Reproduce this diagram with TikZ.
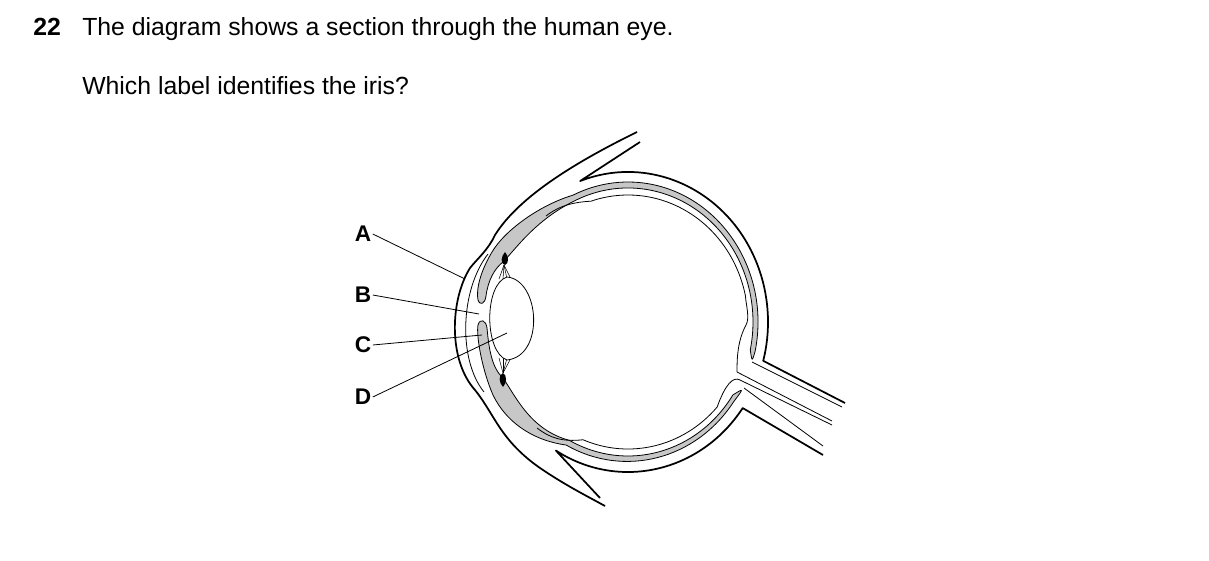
\documentclass[tikz,border=0pt]{standalone}
\usepackage{fontspec}
\setmainfont{Liberation Sans}
\begin{document}
\begin{tikzpicture}[x=0.75pt,y=-0.75pt,
  thick line/.style={line width=1.3pt,line join=round},
  thin line/.style={line width=0.6pt,line join=round},
  band/.style={fill=black!22,draw=black,line width=0.6pt},
  lbl/.style={font=\bfseries\fontsize{17}{20}\selectfont,inner sep=1pt},
  lead/.style={line width=0.6pt},
  txt/.style={font=\fontsize{18.6}{22}\selectfont,anchor=base west,inner sep=0}]
\useasboundingbox (0,0) rectangle (1209,560);
% text
\node[txt,font=\bfseries\fontsize{18.6}{22}\selectfont] (num) at (33,36) {22};
\node[txt] (t1) at (82,36) {The diagram shows a section through the human eye.};
\node[txt] (t2) at (82,94) {Which label identifies the iris?};
% upper choroid / ciliary / iris
\path[band] ([shift={(628,322)}]12:130 and 140) arc[start angle=12,end angle=-115,x radius=130,y radius=140]
  .. controls (540,205) and (505,230) .. (492,252)
  .. controls (480,272) and (476,290) .. (478,300)
  .. controls (480,306) and (485,304) .. (486,296)
  .. controls (488,280) and (495,268) .. (503,262)
  .. controls (515,250) and (535,220) .. ([shift={(628,322)}]-115:125 and 134)
  arc[start angle=-115,end angle=12,x radius=125,y radius=134] .. controls (752,362) .. cycle;
% lower choroid / ciliary / iris
\path[band] ([shift={(628,322)}]35:129 and 139) arc[start angle=35,end angle=118,x radius=130,y radius=140]
  .. controls (530,440) and (505,420) .. (493,395)
  .. controls (482,370) and (476,335) .. (478,325)
  .. controls (480,318) and (486,320) .. (487,328)
  .. controls (489,350) and (492,368) .. (503,378)
  .. controls (515,395) and (530,430) .. ([shift={(628,322)}]118:125 and 134)
  arc[start angle=118,end angle=33,x radius=125,y radius=134] .. controls (744,388) .. cycle;
% ciliary dots
\fill (505,252) .. controls (509,256) and (509,264) .. (505,265) .. controls (500,264) and (501,256) .. cycle;
\fill (503,387) .. controls (507,383) and (507,375) .. (503,373) .. controls (498,375) and (499,383) .. cycle;
% suspensory ligaments
\foreach \a in {499,503,507,511} \draw[thin line,line width=0.4pt] (504,265) -- (\a,279);
\foreach \a in {499,503,507,511} \draw[thin line,line width=0.4pt] (503,373) -- (\a,358);
% lens
\draw[thin line,fill=white] (507,277) .. controls (540,280) and (545,356) .. (507,360)
  .. controls (484,352) and (484,284) .. (507,277);
% outer contour (conjunctiva + cornea)
\draw[thick line] (637,132) .. controls (580,160) and (520,195) .. (495,235)
  .. controls (488,250) and (478,258) .. (470,268)
  .. controls (450,300) and (448,360) .. (475,390)
  .. controls (495,415) and (500,440) .. (540,468)
  .. controls (565,485) and (585,495) .. (605,506);
% cornea inner
\draw[thin line] (488,254) .. controls (460,290) and (458,360) .. (484,392);
% upper fold and sclera
\draw[thick line] (640,142) -- ([shift={(628,322)}]-110:140 and 150)
  arc[start angle=-110,end angle=15,x radius=140,y radius=150] -- (845,403);
% lower fold and sclera
\draw[thick line] (600,498) -- ([shift={(628,322)}]121:140 and 150)
  arc[start angle=121,end angle=35,x radius=140,y radius=150] -- (823,455);
% nerve inner lines
\draw[thin line] (752,362) -- (842,407);
\draw[thin line] (744,388) -- (823,446);
% retina upper
\draw[thin line] (546,216) .. controls (560,205) and (575,202) .. ([shift={(628,322)}]-108:120 and 127)
  arc[start angle=-108,end angle=-12,x radius=120,y radius=127]
  .. controls (746,305) and (750,318) .. (746,325)
  .. controls (738,340) and (737,355) .. (737,372) -- (832,421);
% retina lower
\draw[thin line] (537,428) .. controls (550,438) and (562,442) .. ([shift={(628,322)}]112:120 and 127)
  arc[start angle=112,end angle=42,x radius=120,y radius=127]
  .. controls (725,385) and (733,376) .. (740,380) -- (832,425);
% labels
\node[lbl] (A) at (363,234) {A};
\node[lbl] (B) at (363,295) {B};
\node[lbl] (C) at (363,345) {C};
\node[lbl] (D) at (363,397) {D};
\coordinate (a) at (465,279);
\coordinate (b) at (479,314);
\coordinate (c) at (482,335);
\coordinate (d) at (507,333);
\draw[lead] (A.east) -- (a);
\draw[lead] (B.east) -- (b);
\draw[lead] (C.east) -- (c);
\draw[lead] (D.east) -- (d);
\end{tikzpicture}
\end{document}
